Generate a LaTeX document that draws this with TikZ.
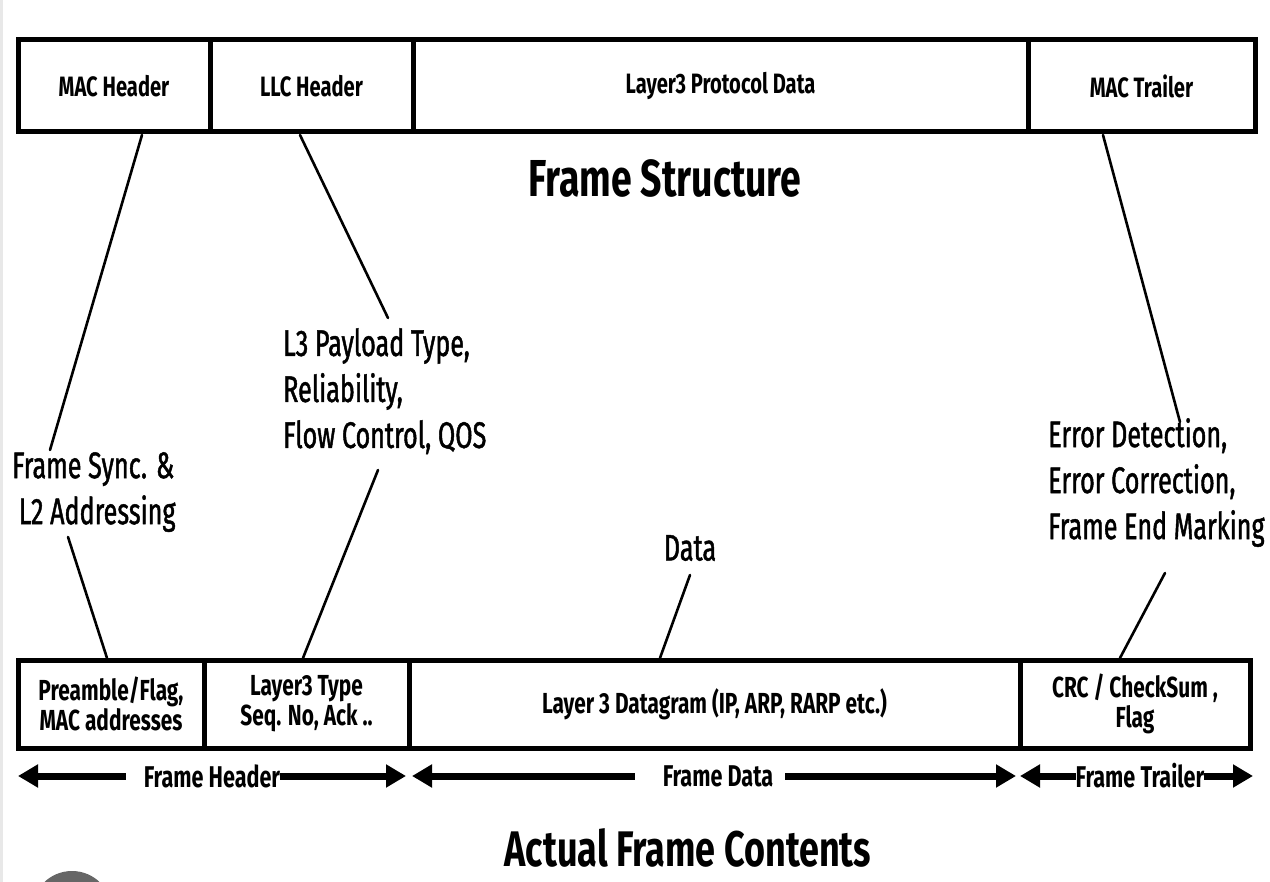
\documentclass[tikz,border=0pt]{standalone}
\usepackage{fontspec}
\setmainfont{Fira Sans}
\newfontfamily\cf[FakeStretch=0.72]{Fira Sans}
\newfontfamily\cfm[FakeStretch=0.68,FakeBold=1.2]{Fira Sans}
\usetikzlibrary{arrows.meta,calc}
\tikzset{
  fbox/.style={draw, line width=5pt, inner sep=0pt, outer sep=0pt, anchor=north west, align=center},
  toplbl/.style={font=\cf\bfseries\fontsize{28}{30}\selectfont},
  botlbl/.style={font=\cf\bfseries\fontsize{29}{30}\selectfont},
  annot/.style={font=\cfm\fontsize{37}{46}\selectfont, align=left, inner sep=0pt},
  title/.style={font=\cf\bfseries\fontsize{52}{56}\selectfont, inner sep=0pt},
  spanlbl/.style={font=\cf\bfseries\fontsize{30}{30}\selectfont, inner sep=0pt},
  conn/.style={line width=2.6pt, line cap=round},
  fat/.style={line width=7pt, -{Triangle[length=20pt,width=22pt]}}
}
\begin{document}
\begin{tikzpicture}[x=1pt,y=-1pt]
\useasboundingbox (0,0) rectangle (1270,882);
\fill[white] (0,0) rectangle (1270,882);
\fill[gray!18] (0,0) rectangle (3,882);
\fill[black!60] (72,911) circle (40);
% top frame structure
\node[fbox,toplbl,minimum width=192pt,minimum height=92pt] (mac) at (18,40) {MAC Header};
\node[fbox,toplbl,minimum width=203pt,minimum height=92pt] (llc) at (210,40) {LLC Header};
\node[fbox,toplbl,minimum width=615pt,minimum height=92pt] (l3p) at (413,40) {Layer3 Protocol Data};
\node[fbox,toplbl,minimum width=227pt,minimum height=92pt] (mtr) at (1028,40) {MAC Trailer};
\node[title] (fs) at (665,178) {Frame Structure};
% bottom frame contents
\node[fbox,botlbl,minimum width=186pt,minimum height=88pt] (pre) at (18,660) {Preamble/Flag,\\MAC addresses};
\node[fbox,botlbl,minimum width=205pt,minimum height=88pt] (typ) at (204,660) {Layer3 Type\\Seq. No, Ack ..};
\node[fbox,botlbl,minimum width=611pt,minimum height=88pt] (dgr) at (409,660) {Layer 3 Datagram (IP, ARP, RARP etc.)};
\node[fbox,botlbl,minimum width=230pt,minimum height=88pt] (crc) at (1020,660) {CRC / CheckSum ,\\Flag};
\node[title,font=\cf\bfseries\fontsize{50}{56}\selectfont] (afc) at (688,848) {Actual Frame Contents};
% annotations
\node[annot,anchor=north west] (sync) at (12,452) {Frame Sync. \&\\\ L2 Addressing};
\node[annot,anchor=north west] (l3t) at (283,328) {L3 Payload Type,\\Reliability,\\Flow Control, QOS};
\node[annot,anchor=north west] (err) at (1048,418) {Error Detection,\\Error Correction,\\Frame End Marking};
\node[annot] (data) at (690,548) {Data};
% connector end points
\coordinate (a1) at (142,135);
\coordinate (a2) at (50,450);
\coordinate (b1) at (68,537);
\coordinate (b2) at (107,658);
\coordinate (c1) at (300,135);
\coordinate (c2) at (388,318);
\coordinate (d1) at (378,470);
\coordinate (d2) at (303,658);
\coordinate (e1) at (1103,135);
\coordinate (e2) at (1180,422);
\coordinate (f1) at (1165,573);
\coordinate (f2) at (1120,658);
\coordinate (g1) at (690,575);
\coordinate (g2) at (660,658);
\draw[conn] (a1) -- (a2);
\draw[conn] (b1) -- (b2);
\draw[conn] (c1) -- (c2);
\draw[conn] (d1) -- (d2);
\draw[conn] (e1) -- (e2);
\draw[conn] (f1) -- (f2);
\draw[conn] (g1) -- (g2);
% span labels and arrows
\node[spanlbl] (fh) at (212,776) {Frame Header};
\node[spanlbl] (fd) at (718,776) {Frame Data};
\node[spanlbl] (ft) at (1140,776) {Frame Trailer};
\coordinate (fhL) at (18,776);
\coordinate (fhR) at (406,776);
\coordinate (fdL) at (412,776);
\coordinate (fdR) at (1016,776);
\coordinate (ftL) at (1020,776);
\coordinate (ftR) at (1253,776);
\draw[fat] ([xshift=-18pt]fh.west) -- (fhL);
\draw[fat] ([xshift=0pt]fh.east) -- (fhR);
\draw[fat] ([xshift=-28pt]fd.west) -- (fdL);
\draw[fat] ([xshift=12pt]fd.east) -- (fdR);
\draw[fat] ([xshift=0pt]ft.west) -- (ftL);
\draw[fat] ([xshift=0pt]ft.east) -- (ftR);
\end{tikzpicture}
\end{document}
